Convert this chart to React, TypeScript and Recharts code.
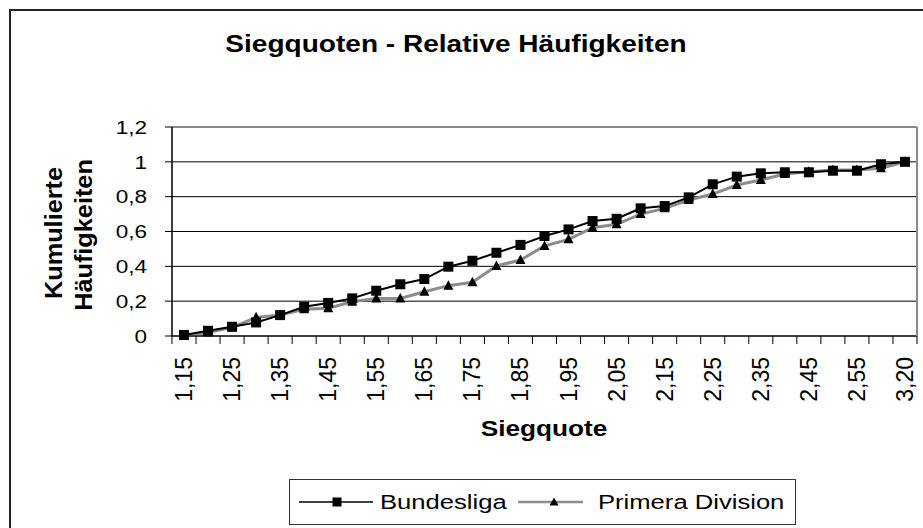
import React from "react";
import { LineChart, Line, XAxis, YAxis, CartesianGrid, Legend } from "recharts";

const categories = [
  "1,15", "1,20", "1,25", "1,30", "1,35", "1,40", "1,45", "1,50", "1,55", "1,60",
  "1,65", "1,70", "1,75", "1,80", "1,85", "1,90", "1,95", "2,00", "2,05", "2,10",
  "2,15", "2,20", "2,25", "2,30", "2,35", "2,40", "2,45", "2,50", "2,55", "2,60", "3,20",
];

const bundesliga = [
  0.006, 0.03, 0.053, 0.078, 0.12, 0.168, 0.19, 0.216, 0.26, 0.297,
  0.327, 0.398, 0.432, 0.478, 0.523, 0.574, 0.612, 0.66, 0.673, 0.733,
  0.746, 0.796, 0.871, 0.915, 0.934, 0.94, 0.94, 0.949, 0.949, 0.986, 1.0,
];

const primera = [
  0.0, 0.02, 0.05, 0.107, 0.12, 0.153, 0.159, 0.197, 0.216, 0.216,
  0.254, 0.289, 0.308, 0.402, 0.436, 0.517, 0.555, 0.622, 0.641, 0.7,
  0.733, 0.781, 0.815, 0.867, 0.896, 0.93, 0.943, 0.953, 0.953, 0.963, 1.0,
];

const yTicks = [0, 0.2, 0.4, 0.6, 0.8, 1, 1.2];
const yTickLabels = ["0", "0,2", "0,4", "0,6", "0,8", "1", "1,2"];
const gridValues = [0, 0.2, 0.4, 0.6, 0.8, 1];
const borderValues = [1.2];

const seriesNames = ["Bundesliga", "Primera Division"];
const titleText = "Siegquoten - Relative Häufigkeiten";
const yTitleLines = ["Kumulierte", "Häufigkeiten"];
const xTitleText = "Siegquote";

const data = categories.map((c, i) => ({ cat: c, bundesliga: bundesliga[i], primera: primera[i] }));

const FONT = "'Liberation Sans', Arial, sans-serif";
const SX = 1.22;
const HALF_BAND = 12;

function XTick(props: any) {
  const { x, y, index, payload, width, visibleTicksCount } = props;
  const n = visibleTicksCount || categories.length;
  const half = width && n ? width / n / 2 : HALF_BAND;
  return (
    <g>
      <line x1={x - half} x2={x - half} y1={y} y2={y + 8} stroke="#000" strokeWidth={1} />
      {index === n - 1 && <line x1={x + half} x2={x + half} y1={y} y2={y + 8} stroke="#000" strokeWidth={1} />}
      {index % 2 === 0 && (
        <text
          transform={`translate(${x + 8},${y + 21}) rotate(-90)`}
          textAnchor="end"
          fontSize={23}
          fontFamily={FONT}
          fill="#000"
        >
          {payload.value}
        </text>
      )}
    </g>
  );
}

function YTick(props: any) {
  const { x, y, index } = props;
  return (
    <text
      transform={`translate(${x},${y}) scale(${SX},1)`}
      textAnchor="end"
      dy="0.36em"
      fontSize={18.5}
      fontFamily={FONT}
      fill="#000"
    >
      {yTickLabels[index]}
    </text>
  );
}

const SquareDot = (p: any) => {
  if (p.cx == null || p.cy == null) return <g key={`s${p.index}`} />;
  return <rect key={`s${p.index}`} x={p.cx - 5} y={p.cy - 5} width={10} height={10} fill="#000" />;
};

const TriDot = (p: any) => {
  if (p.cx == null || p.cy == null) return <g key={`t${p.index}`} />;
  const { cx, cy } = p;
  return (
    <polygon
      key={`t${p.index}`}
      points={`${cx},${cy - 5.5} ${cx + 5},${cy + 4} ${cx - 5},${cy + 4}`}
      fill="#000"
    />
  );
};

function LegendBox() {
  return (
    <div
      style={{
        width: 507,
        height: 46,
        border: "1.5px solid #333",
        boxSizing: "border-box",
        background: "#fff",
        position: "relative",
      }}
    >
      <svg width={507} height={46} style={{ position: "absolute", left: -1.5, top: -1.5 }}>
        <line x1={10} x2={84} y1={23} y2={23} stroke="#000" strokeWidth={1.5} />
        <rect x={43.5} y={18.5} width={9} height={9} fill="#000" />
        <text transform={`translate(91,30) scale(${SX},1)`} fontSize={21} fontFamily={FONT} fill="#000">
          {seriesNames[0]}
        </text>
        <line x1={229} x2={294} y1={23} y2={23} stroke="#8c8c8c" strokeWidth={2.5} />
        <polygon points="265,18.5 269.5,26.5 260.5,26.5" fill="#000" />
        <text transform={`translate(309,30) scale(${SX},1)`} fontSize={21} fontFamily={FONT} fill="#000">
          {seriesNames[1]}
        </text>
      </svg>
    </div>
  );
}

export default function App() {
  return (
    <div
      style={{
        position: "absolute",
        left: 0,
        top: 0,
        width: 923,
        height: 528,
        overflow: "hidden",
        background: "#fff",
        fontFamily: FONT,
      }}
    >
      <div
        style={{
          position: "absolute",
          left: 9,
          top: 9,
          width: 1000,
          height: 1000,
          border: "2px solid #222",
        }}
      />
      <div style={{ position: "absolute", left: 0, top: 0 }}>
        <LineChart width={923} height={528} data={data} margin={{ top: 127, right: 5, bottom: 0, left: 0 }}>
          <CartesianGrid horizontal={true} vertical={false} horizontalValues={gridValues} stroke="#000" strokeWidth={1} fill="none" />
          <CartesianGrid horizontal={true} vertical={false} horizontalValues={borderValues} stroke="#8a8a8a" strokeWidth={2} fill="none" />
          <XAxis
            dataKey="cat"
            type="category"
            interval={0}
            height={192}
            padding={{ left: HALF_BAND, right: HALF_BAND }}
            tickSize={0}
            tickMargin={0}
            tickLine={false}
            axisLine={{ stroke: "#000", strokeWidth: 1 }}
            tick={<XTick />}
          />
          <YAxis
            type="number"
            domain={[0, 1.2]}
            ticks={yTicks}
            interval={0}
            width={172}
            tickSize={7}
            tickMargin={18}
            tickLine={{ stroke: "#000" }}
            axisLine={{ stroke: "#000", strokeWidth: 1.5 }}
            tick={<YTick />}
          />
          <YAxis
            yAxisId="right"
            orientation="right"
            type="number"
            domain={[0, 1.2]}
            width={1}
            tick={false}
            tickLine={false}
            axisLine={{ stroke: "#8a8a8a", strokeWidth: 2 }}
          />
          <Legend
            layout="horizontal"
            verticalAlign="middle"
            align="center"
            content={() => <LegendBox />}
            wrapperStyle={{ left: 289, top: 479, width: 507, height: 46 }}
          />
          <Line
            dataKey="primera"
            name={seriesNames[1]}
            stroke="#8c8c8c"
            strokeWidth={3}
            dot={TriDot}
            activeDot={false}
            isAnimationActive={false}
          />
          <Line
            dataKey="bundesliga"
            name={seriesNames[0]}
            stroke="#000"
            strokeWidth={2}
            dot={SquareDot}
            activeDot={false}
            isAnimationActive={false}
          />
        </LineChart>
      </div>
      <svg
        width={923}
        height={528}
        style={{ position: "absolute", left: 0, top: 0, pointerEvents: "none" }}
      >
        <text
          transform={`translate(456,52) scale(${SX},1)`}
          textAnchor="middle"
          fontSize={23}
          fontWeight="bold"
          fontFamily={FONT}
          fill="#000"
        >
          {titleText}
        </text>
        <text
          transform="translate(62,233) rotate(-90) scale(1.1,1)"
          textAnchor="middle"
          fontSize={23}
          fontWeight="bold"
          fontFamily={FONT}
          fill="#000"
        >
          {yTitleLines[0]}
        </text>
        <text
          transform="translate(92,235) rotate(-90) scale(1.1,1)"
          textAnchor="middle"
          fontSize={23}
          fontWeight="bold"
          fontFamily={FONT}
          fill="#000"
        >
          {yTitleLines[1]}
        </text>
        <text
          transform={`translate(544,436) scale(${SX},1)`}
          textAnchor="middle"
          fontSize={21.5}
          fontWeight="bold"
          fontFamily={FONT}
          fill="#000"
        >
          {xTitleText}
        </text>
      </svg>
    </div>
  );
}
